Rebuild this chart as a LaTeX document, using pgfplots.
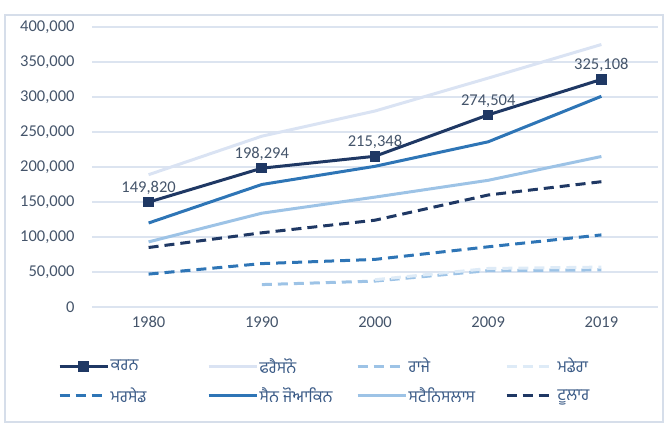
\documentclass[border=0pt]{standalone}
\usepackage{fontspec}
\setmainfont{Carlito}
\newfontfamily\gurmukhi[Script=Gurmukhi]{Hind Jalandhar}
\usepackage{pgfplots}
\pgfplotsset{compat=1.18}
\definecolor{navy}{HTML}{1F3864}
\definecolor{midblue}{HTML}{2E75B6}
\definecolor{ltblue}{HTML}{9DC3E6}
\definecolor{paleblue}{HTML}{DAE3F3}
\definecolor{palerblue}{HTML}{DEEBF7}
\definecolor{gridc}{HTML}{DCE4F0}
\definecolor{txt}{HTML}{44546A}
\definecolor{lgtxt}{HTML}{3A5A86}
\definecolor{framec}{HTML}{D6DEEA}
\newcommand{\lgent}[1]{\makebox[97pt][l]{\hspace*{1pt}\gurmukhi #1}}
\begin{document}
\begin{tikzpicture}[x=1pt,y=1pt]
\path[use as bounding box] (-92,-116) rectangle (578,307);
\draw[framec, line width=1.2pt] (-87,-115) rectangle (571,292);
\begin{axis}[
  at={(0,0)}, anchor=south west,
  scale only axis, width=566pt, height=280pt,
  xmin=-0.5, xmax=4.5, ymin=0, ymax=400000,
  xtick={0,...,4}, xticklabels={1980,1990,2000,2009,2019},
  ytick={0,50000,...,400000},
  scaled y ticks=false,
  /pgf/number format/assume math mode=true,
  yticklabel style={/pgf/number format/fixed, /pgf/number format/1000 sep={,}},
  ticklabel style={font=\fontsize{16.5}{16.5}\selectfont, text=txt},
  xticklabel style={yshift=-6pt},
  yticklabel style={xshift=-14pt},
  axis line style={draw=none},
  major tick length=0pt,
  ymajorgrids, grid style={gridc, line width=1.3pt},
  clip=false,
  legend columns=4,
  legend cell align=left,
  legend style={at={(axis description cs:0,0)}, anchor=north west, xshift=-34pt, yshift=-50pt,
    draw=none, fill=none, inner sep=0pt, row sep=11pt,
    nodes={inner xsep=0.5pt, inner ysep=1pt},
    font=\fontsize{16.5}{16.5}\selectfont, text=lgtxt,
    /tikz/every even column/.append style={column sep=0pt}},
  legend image code/.code={\draw[mark repeat=2,mark phase=2,#1] plot coordinates {(0pt,0pt) (24pt,0pt) (48pt,0pt)};},
]
\addplot[navy, line width=3pt, mark=square*, mark size=3.8pt, mark options={solid}]
  coordinates {(0,149820) (1,198294) (2,215348) (3,274504) (4,325108)};
\addlegendentry{\lgent{ਕਰਨ}}
\addplot[paleblue, line width=3pt]
  coordinates {(0,189000) (1,244000) (2,280000) (3,327000) (4,375000)};
\addlegendentry{\lgent{ਫਰੈਸਨੋ}}
\addplot[ltblue, line width=3pt, dash pattern=on 10pt off 6pt]
  coordinates {(1,32000) (2,37000) (3,52000) (4,53000)};
\addlegendentry{\lgent{ਰਾਜੇ}}
\addplot[palerblue, line width=3pt, dash pattern=on 10pt off 6pt]
  coordinates {(2,39000) (3,55000) (4,57000)};
\addlegendentry{\lgent{ਮਡੇਰਾ}}
\addplot[midblue, line width=3pt, dash pattern=on 10pt off 6pt]
  coordinates {(0,47000) (1,62000) (2,68000) (3,86000) (4,103000)};
\addlegendentry{\lgent{ਮਰਸੇਡ}}
\addplot[midblue, line width=3pt]
  coordinates {(0,120000) (1,175000) (2,201000) (3,236000) (4,301000)};
\addlegendentry{\lgent{ਸੈਨ ਜੋਆਕਿਨ}}
\addplot[ltblue, line width=3pt]
  coordinates {(0,93000) (1,134000) (2,157000) (3,181000) (4,215000)};
\addlegendentry{\lgent{ਸਟੈਨਿਸਲਾਸ}}
\addplot[navy, line width=3pt, dash pattern=on 10pt off 6pt]
  coordinates {(0,85000) (1,106000) (2,124000) (3,160000) (4,179000)};
\addlegendentry{\lgent{ਟੂਲਾਰ}}
\addplot[draw=none, forget plot, nodes near coords, point meta=explicit symbolic,
  every node near coord/.append style={anchor=south, yshift=4pt, font=\fontsize{16.5}{16.5}\selectfont, text=txt}]
  coordinates {(0,149820)[149,820] (1,198294)[198,294] (2,215348)[215,348] (3,274504)[274,504] (4,325108)[325,108]};
\end{axis}
\end{tikzpicture}
\end{document}
